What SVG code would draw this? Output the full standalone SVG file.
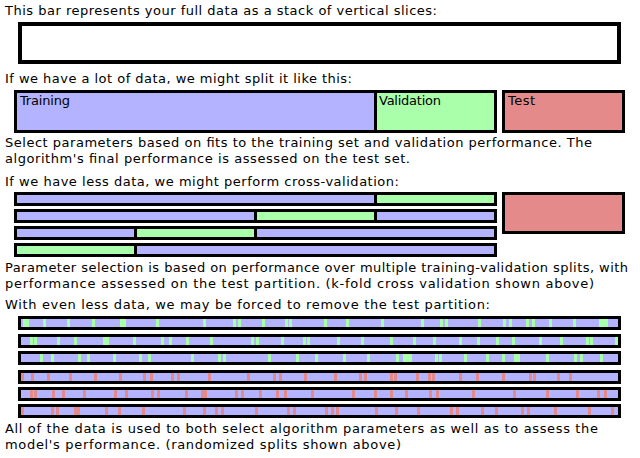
<svg xmlns="http://www.w3.org/2000/svg" width="640" height="458" viewBox="0 0 640 458">
<style>
.t{font-family:"DejaVu Sans",Verdana,sans-serif;font-size:13px;fill:#000}
.b{stroke:#000;stroke-width:3}
.p{fill:#b3b3ff}
.g{fill:#aaffaa}
.r{fill:#e58a8a}
.w{fill:#fff}
</style>
<rect width="640" height="458" fill="#fff"/>
<g id="texts">
<text class="t" x="5" y="15" textLength="432">This bar represents your full data as a stack of vertical slices:</text>
<text class="t" x="5" y="83" textLength="347">If we have a lot of data, we might split it like this:</text>
<text class="t" x="5" y="147" textLength="587">Select parameters based on fits to the training set and validation performance. The</text>
<text class="t" x="5" y="163" textLength="405">algorithm's final performance is assessed on the test set.</text>
<text class="t" x="5" y="185.5" textLength="394">If we have less data, we might perform cross-validation:</text>
<text class="t" x="5" y="271.5" textLength="623">Parameter selection is based on performance over multiple training-validation splits, with</text>
<text class="t" x="5" y="288" textLength="589">performance assessed on the test partition. (k-fold cross validation shown above)</text>
<text class="t" x="5" y="308.5" textLength="485">With even less data, we may be forced to remove the test partition:</text>
<text class="t" x="5" y="432.5" textLength="593">All of the data is used to both select algorithm parameters as well as to assess the</text>
<text class="t" x="5" y="448.5" textLength="396">model's performance. (randomized splits shown above)</text>
</g>
<g id="full-bar">
<rect x="20" y="24" width="599" height="38" class="w" stroke="#000" stroke-width="4"/>
</g>
<g id="split">
<g id="training"><rect x="15.5" y="91.5" width="360" height="40" class="p b"/><text class="t" x="20" y="105" textLength="50">Training</text></g>
<g id="validation"><rect x="375.5" y="91.5" width="120" height="40" class="g b"/><text class="t" x="379" y="105" textLength="62">Validation</text></g>
<g id="test"><rect x="503.5" y="91.5" width="120" height="40" class="r b"/><text class="t" x="508" y="105" textLength="27">Test</text></g>
</g>
<g id="cv">
<g id="cv1"><rect x="15.5" y="193.5" width="360" height="11" class="p b"/><rect x="375.5" y="193.5" width="120" height="11" class="g b"/></g>
<g id="cv2"><rect x="15.5" y="210.5" width="240" height="11" class="p b"/><rect x="255.5" y="210.5" width="120" height="11" class="g b"/><rect x="375.5" y="210.5" width="120" height="11" class="p b"/></g>
<g id="cv3"><rect x="15.5" y="227.5" width="120" height="11" class="p b"/><rect x="135.5" y="227.5" width="120" height="11" class="g b"/><rect x="255.5" y="227.5" width="240" height="11" class="p b"/></g>
<g id="cv4"><rect x="15.5" y="244.5" width="120" height="11" class="g b"/><rect x="135.5" y="244.5" width="360" height="11" class="p b"/></g>
<g id="cv-test"><rect x="503.5" y="193.5" width="120" height="39" class="r b"/></g>
</g>
<g id="random">
<g id="rb1">
<rect x="19.5" y="317.5" width="600" height="11" class="p b"/>
<g class="g">
<rect x="23" y="319" width="6" height="8"/><rect x="43" y="319" width="3" height="8"/><rect x="67" y="319" width="3" height="8"/><rect x="92" y="319" width="3" height="8"/><rect x="120" y="319" width="6" height="8"/><rect x="156" y="319" width="3" height="8"/><rect x="203" y="319" width="3" height="8"/><rect x="233" y="319" width="3" height="8"/><rect x="238" y="319" width="3" height="8"/><rect x="262" y="319" width="3" height="8"/><rect x="285" y="319" width="3" height="8"/><rect x="289" y="319" width="3" height="8"/><rect x="324" y="319" width="3" height="8"/><rect x="346" y="319" width="3" height="8"/><rect x="381" y="319" width="3" height="8"/><rect x="421" y="319" width="3" height="8"/><rect x="440" y="319" width="3" height="8"/><rect x="445" y="319" width="3" height="8"/><rect x="478" y="319" width="3" height="8"/><rect x="503" y="319" width="3" height="8"/><rect x="509" y="319" width="3" height="8"/><rect x="526" y="319" width="3" height="8"/><rect x="532" y="319" width="3" height="8"/><rect x="549" y="319" width="3" height="8"/><rect x="573" y="319" width="3" height="8"/><rect x="599" y="319" width="9" height="8"/>
</g>
</g>
<g id="rb2">
<rect x="19.5" y="335.5" width="600" height="11" class="p b"/>
<g class="g">
<rect x="30" y="337" width="3" height="8"/><rect x="34" y="337" width="3" height="8"/><rect x="57" y="337" width="3" height="8"/><rect x="74" y="337" width="3" height="8"/><rect x="103" y="337" width="6" height="8"/><rect x="133" y="337" width="3" height="8"/><rect x="161" y="337" width="3" height="8"/><rect x="169" y="337" width="3" height="8"/><rect x="186" y="337" width="3" height="8"/><rect x="210" y="337" width="3" height="8"/><rect x="251" y="337" width="3" height="8"/><rect x="256" y="337" width="3" height="8"/><rect x="281" y="337" width="3" height="8"/><rect x="303" y="337" width="3" height="8"/><rect x="307" y="337" width="3" height="8"/><rect x="337" y="337" width="3" height="8"/><rect x="361" y="337" width="3" height="8"/><rect x="390" y="337" width="3" height="8"/><rect x="413" y="337" width="3" height="8"/><rect x="433" y="337" width="3" height="8"/><rect x="459" y="337" width="3" height="8"/><rect x="477" y="337" width="3" height="8"/><rect x="496" y="337" width="3" height="8"/><rect x="512" y="337" width="3" height="8"/><rect x="539" y="337" width="3" height="8"/><rect x="560" y="337" width="3" height="8"/><rect x="586" y="337" width="3" height="8"/><rect x="590" y="337" width="3" height="8"/><rect x="615" y="337" width="3" height="8"/>
</g>
</g>
<g id="rb3">
<rect x="19.5" y="352.5" width="600" height="11" class="p b"/>
<g class="g">
<rect x="40" y="354" width="3" height="8"/><rect x="51" y="354" width="3" height="8"/><rect x="78" y="354" width="3" height="8"/><rect x="87" y="354" width="3" height="8"/><rect x="113" y="354" width="3" height="8"/><rect x="139" y="354" width="3" height="8"/><rect x="148" y="354" width="3" height="8"/><rect x="191" y="354" width="3" height="8"/><rect x="218" y="354" width="3" height="8"/><rect x="223" y="354" width="3" height="8"/><rect x="268" y="354" width="3" height="8"/><rect x="296" y="354" width="3" height="8"/><rect x="315" y="354" width="3" height="8"/><rect x="343" y="354" width="3" height="8"/><rect x="367" y="354" width="3" height="8"/><rect x="396" y="354" width="3" height="8"/><rect x="403" y="354" width="9" height="8"/><rect x="435" y="354" width="3" height="8"/><rect x="439" y="354" width="3" height="8"/><rect x="464" y="354" width="3" height="8"/><rect x="486" y="354" width="3" height="8"/><rect x="502" y="354" width="3" height="8"/><rect x="514" y="354" width="6" height="8"/><rect x="546" y="354" width="3" height="8"/><rect x="574" y="354" width="3" height="8"/><rect x="580" y="354" width="3" height="8"/><rect x="600" y="354" width="3" height="8"/>
</g>
</g>
<g id="rb4">
<rect x="19.5" y="371.5" width="600" height="11" class="p b"/>
<g class="r">
<rect x="21" y="373" width="3" height="8"/><rect x="31" y="373" width="3" height="8"/><rect x="47" y="373" width="3" height="8"/><rect x="69" y="373" width="3" height="8"/><rect x="94" y="373" width="3" height="8"/><rect x="119" y="373" width="3" height="8"/><rect x="143" y="373" width="3" height="8"/><rect x="150" y="373" width="3" height="8"/><rect x="171" y="373" width="3" height="8"/><rect x="177" y="373" width="3" height="8"/><rect x="208" y="373" width="3" height="8"/><rect x="247" y="373" width="3" height="8"/><rect x="273" y="373" width="3" height="8"/><rect x="279" y="373" width="3" height="8"/><rect x="304" y="373" width="3" height="8"/><rect x="334" y="373" width="3" height="8"/><rect x="359" y="373" width="3" height="8"/><rect x="364" y="373" width="3" height="8"/><rect x="390" y="373" width="3" height="8"/><rect x="394" y="373" width="3" height="8"/><rect x="416" y="373" width="3" height="8"/><rect x="428" y="373" width="3" height="8"/><rect x="432" y="373" width="3" height="8"/><rect x="459" y="373" width="3" height="8"/><rect x="476" y="373" width="3" height="8"/><rect x="502" y="373" width="3" height="8"/><rect x="529" y="373" width="3" height="8"/><rect x="533" y="373" width="3" height="8"/><rect x="557" y="373" width="3" height="8"/><rect x="569" y="373" width="3" height="8"/>
</g>
</g>
<g id="rb5">
<rect x="19.5" y="388.5" width="600" height="11" class="p b"/>
<g class="r">
<rect x="30" y="390" width="3" height="8"/><rect x="34" y="390" width="3" height="8"/><rect x="52" y="390" width="3" height="8"/><rect x="62" y="390" width="3" height="8"/><rect x="83" y="390" width="3" height="8"/><rect x="114" y="390" width="3" height="8"/><rect x="125" y="390" width="3" height="8"/><rect x="151" y="390" width="3" height="8"/><rect x="157" y="390" width="3" height="8"/><rect x="185" y="390" width="3" height="8"/><rect x="201" y="390" width="6" height="8"/><rect x="235" y="390" width="3" height="8"/><rect x="241" y="390" width="3" height="8"/><rect x="259" y="390" width="3" height="8"/><rect x="276" y="390" width="3" height="8"/><rect x="284" y="390" width="3" height="8"/><rect x="311" y="390" width="3" height="8"/><rect x="352" y="390" width="3" height="8"/><rect x="374" y="390" width="3" height="8"/><rect x="390" y="390" width="3" height="8"/><rect x="405" y="390" width="3" height="8"/><rect x="429" y="390" width="3" height="8"/><rect x="436" y="390" width="3" height="8"/><rect x="472" y="390" width="3" height="8"/><rect x="513" y="390" width="3" height="8"/><rect x="546" y="390" width="3" height="8"/><rect x="576" y="390" width="3" height="8"/><rect x="597" y="390" width="3" height="8"/><rect x="604" y="390" width="3" height="8"/>
</g>
</g>
<g id="rb6">
<rect x="19.5" y="405.5" width="600" height="11" class="p b"/>
<g class="r">
<rect x="21" y="407" width="3" height="8"/><rect x="51" y="407" width="3" height="8"/><rect x="56" y="407" width="3" height="8"/><rect x="74" y="407" width="6" height="8"/><rect x="105" y="407" width="3" height="8"/><rect x="118" y="407" width="3" height="8"/><rect x="142" y="407" width="3" height="8"/><rect x="183" y="407" width="3" height="8"/><rect x="203" y="407" width="3" height="8"/><rect x="215" y="407" width="3" height="8"/><rect x="221" y="407" width="3" height="8"/><rect x="255" y="407" width="3" height="8"/><rect x="287" y="407" width="3" height="8"/><rect x="293" y="407" width="3" height="8"/><rect x="325" y="407" width="3" height="8"/><rect x="331" y="407" width="3" height="8"/><rect x="336" y="407" width="3" height="8"/><rect x="375" y="407" width="3" height="8"/><rect x="395" y="407" width="3" height="8"/><rect x="417" y="407" width="3" height="8"/><rect x="450" y="407" width="3" height="8"/><rect x="456" y="407" width="3" height="8"/><rect x="481" y="407" width="3" height="8"/><rect x="495" y="407" width="3" height="8"/><rect x="521" y="407" width="3" height="8"/><rect x="527" y="407" width="3" height="8"/><rect x="554" y="407" width="3" height="8"/><rect x="588" y="407" width="3" height="8"/><rect x="611" y="407" width="3" height="8"/>
</g>
</g>
</g>
</svg>
